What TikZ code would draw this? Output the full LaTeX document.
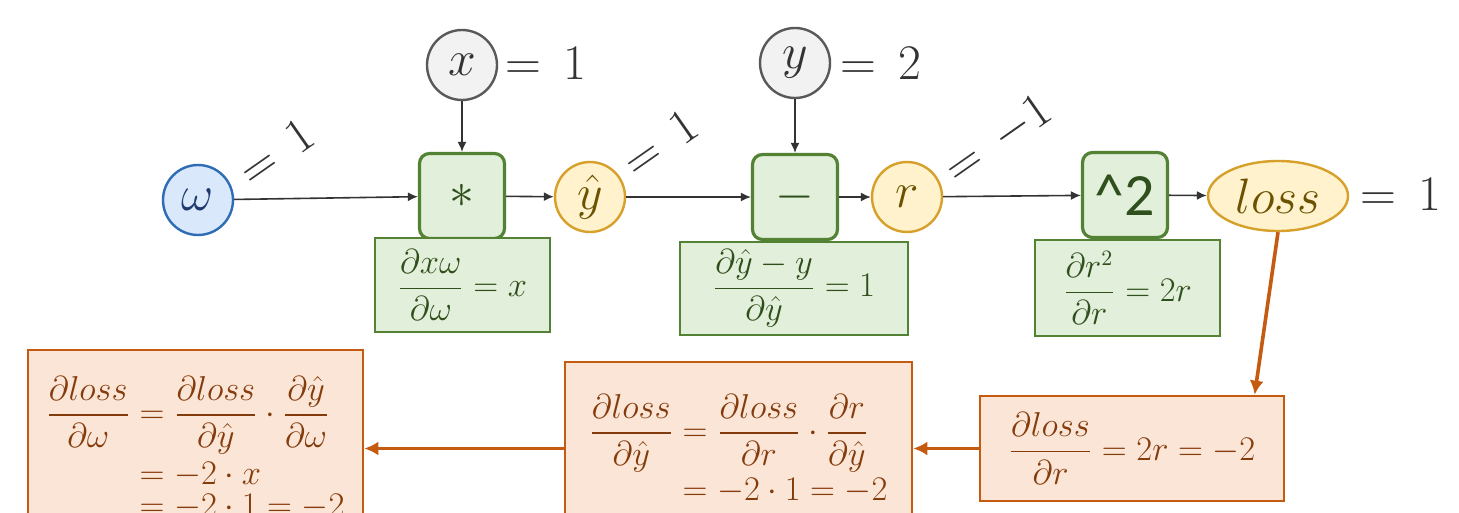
\documentclass[tikz,border=0pt]{standalone}
\usepackage{amsmath}
\usepackage{fontspec}
\newfontfamily\carlito{Carlito}
\usetikzlibrary{shapes.geometric,arrows.meta,calc}
\definecolor{bluefill}{HTML}{DAE8FC}
\definecolor{blueline}{HTML}{2E6DB4}
\definecolor{bluetext}{HTML}{1F3A6E}
\definecolor{grayfill}{HTML}{F2F2F2}
\definecolor{grayline}{HTML}{595959}
\definecolor{darktext}{HTML}{333333}
\definecolor{yelfill}{HTML}{FFF2CC}
\definecolor{yelline}{HTML}{D6A02A}
\definecolor{yeltext}{HTML}{6B5200}
\definecolor{grnfill}{HTML}{E2EFDA}
\definecolor{grnline}{HTML}{548235}
\definecolor{grntext}{HTML}{2F4F1C}
\definecolor{orfill}{HTML}{FBE5D6}
\definecolor{orline}{HTML}{C55A11}
\definecolor{ortext}{HTML}{843C0C}
\tikzset{
  varc/.style={circle, draw, line width=1.2pt, minimum size=35pt, inner sep=0pt, font=\fontsize{27}{30}\selectfont},
  opbox/.style={draw=grnline, fill=grnfill, text=grntext, line width=1.6pt, rounded corners=5pt, minimum width=42.5pt, minimum height=42.5pt, inner sep=0pt, font=\fontsize{27}{30}\selectfont},
  derbox/.style={draw=grnline, fill=grnfill, text=grntext, line width=1.3pt, inner sep=0pt, font=\fontsize{16}{19}\selectfont},
  orbox/.style={draw=orline, fill=orfill, text=ortext, line width=1.3pt, inner sep=0pt, font=\fontsize{16}{19}\selectfont},
  vlabel/.style={text=darktext, font=\fontsize{26}{30}\selectfont, inner sep=0pt},
  fwd/.style={-{Latex[length=5pt,width=4.5pt]}, draw=darktext, line width=0.8pt},
  bwd/.style={-{Latex[length=7pt,width=7pt]}, draw=orline, line width=1.8pt}
}
\begin{document}
\begin{tikzpicture}[x=0.5pt,y=-0.5pt]
\useasboundingbox (0,0) rectangle (1459,513);
\clip (0,0) rectangle (1459,513);
\fill[white] (0,0) rectangle (1459,513);

% forward nodes
\node[varc, fill=bluefill, draw=blueline, text=bluetext] (w) at (198,200) {$\omega$};
\node[varc, fill=grayfill, draw=grayline, text=darktext] (x) at (462,65) {$x$};
\node[varc, fill=grayfill, draw=grayline, text=darktext] (y) at (795,63) {$y$};
\node[opbox] (mul) at (462,196) {$*$};
\node[varc, fill=yelfill, draw=yelline, text=yeltext] (yh) at (590,197) {$\hat{y}$};
\node[opbox] (sub) at (795,197) {$-$};
\node[varc, fill=yelfill, draw=yelline, text=yeltext] (r) at (907,197) {$r$};
\node[opbox, font=\fontsize{30}{34}\selectfont] (sq) at (1125,195) {\carlito\textasciicircum 2};
\node[ellipse, draw=yelline, fill=yelfill, text=yeltext, line width=1.2pt, minimum width=70pt, minimum height=35pt, inner sep=0pt, font=\fontsize{33}{36}\selectfont] (loss) at (1278,196) {$loss$};

% value labels
\node[vlabel, anchor=west] (xv) at (505,63) {$=\,1$};
\node[vlabel, anchor=west] (yv) at (840,63) {$=\,2$};
\node[vlabel, anchor=west] (lv) at (1360,194) {$=\,1$};
\node[vlabel, rotate=35] (wv) at (276,152) {$=\,1$};
\node[vlabel, rotate=35] (yhv) at (660,143) {$=\,1$};
\node[vlabel, rotate=35] (rv) at (998,140) {$=\,-1$};

% derivative boxes
\node[derbox, minimum width=87.5pt, minimum height=47pt] (d1) at (462.5,285) {$\dfrac{\partial x\omega}{\partial\omega}=x$};
\node[derbox, minimum width=114pt, minimum height=46.5pt] (d2) at (794,288.5) {$\dfrac{\partial \hat{y}-y}{\partial\hat{y}}=1$};
\node[derbox, minimum width=92.5pt, minimum height=48pt] (d3) at (1127.5,288) {$\dfrac{\partial r^2}{\partial r}=2r$};

% forward arrows
\draw[fwd] (w) -- (mul);
\draw[fwd] (x) -- (mul);
\draw[fwd] (mul) -- (yh);
\draw[fwd] (yh) -- (sub);
\draw[fwd] (y) -- (sub);
\draw[fwd] (sub) -- (r);
\draw[fwd] (r) -- (sq);
\draw[fwd] (sq) -- (loss);

% backward boxes
\node[orbox, minimum width=167.5pt, minimum height=102pt] (A) at (195.5,452) {$\begin{aligned}\dfrac{\partial loss}{\partial\omega}&=\dfrac{\partial loss}{\partial\hat{y}}\cdot\dfrac{\partial\hat{y}}{\partial\omega}\\[-2pt] &=-2\cdot x\\[-6pt] &=-2\cdot 1=-2\end{aligned}$};
\node[orbox, minimum width=173.5pt, minimum height=91pt] (B) at (738.5,453) {$\begin{aligned}\dfrac{\partial loss}{\partial\hat{y}}&=\dfrac{\partial loss}{\partial r}\cdot\dfrac{\partial r}{\partial\hat{y}}\\[-3pt] &=-2\cdot 1=-2\end{aligned}$};
\node[orbox, minimum width=152pt, minimum height=52.5pt] (C) at (1132,448.5) {$\dfrac{\partial loss}{\partial r}=2r=-2$};

% backward arrows
\coordinate (cin) at ($(C.north west)!0.9!(C.north east)$);
\draw[bwd] (loss.south) -- (cin);
\draw[bwd] (C.west) -- (C.west -| B.east);
\draw[bwd] (C.west -| B.west) -- (C.west -| A.east);
\end{tikzpicture}
\end{document}
